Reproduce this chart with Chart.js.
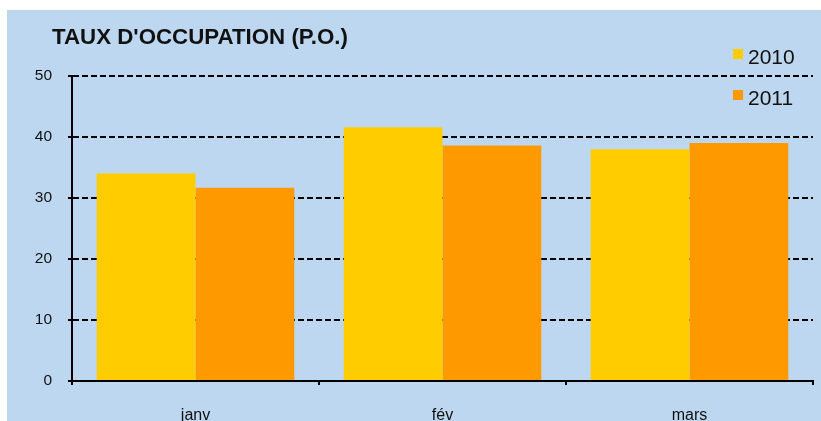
<!DOCTYPE html>
<html>
<head>
<meta charset="utf-8">
<script src="https://cdn.jsdelivr.net/npm/chart.js@4/dist/chart.umd.min.js"></script>
<style>
html,body{margin:0;padding:0;background:#fff;}
#wrap{position:absolute;left:0;top:0;width:821px;height:421px;}
</style>
</head>
<body>
<div id="wrap"><canvas id="c" width="821" height="421"></canvas></div>
<script>
const chartTitle = "TAUX D'OCCUPATION (P.O.)";
const categories = ["janv", "fév", "mars"];
const seriesNames = ["2010", "2011"];
const values2010 = [34.0, 41.6, 38.0];
const values2011 = [31.7, 38.6, 39.0];
const yTicks = [0, 10, 20, 30, 40, 50];

const BG = '#BDD7F1';
const C2010 = '#FFCC00';
const C2011 = '#FF9900';

const bgPlugin = {
  id: 'bg',
  beforeDraw(chart) {
    const ctx = chart.ctx;
    ctx.save();
    ctx.fillStyle = '#ffffff';
    ctx.fillRect(0, 0, chart.width, chart.height);
    ctx.fillStyle = BG;
    ctx.fillRect(7, 10, chart.width - 7, chart.height - 10);
    ctx.restore();
  },
  afterDraw(chart) {
    const ctx = chart.ctx;
    ctx.save();
    // title
    ctx.fillStyle = '#111';
    ctx.font = 'bold 22.3px "Liberation Sans", Arial, sans-serif';
    ctx.textBaseline = 'alphabetic';
    ctx.textAlign = 'left';
    ctx.fillText(chartTitle, 52, 44);
    // legend
    ctx.font = '21px "Liberation Sans", Arial, sans-serif';
    const ys = [49, 90];
    chart.data.datasets.forEach((ds, i) => {
      ctx.fillStyle = ds.backgroundColor;
      ctx.fillRect(733, ys[i], 10, 10);
      ctx.fillStyle = '#111';
      ctx.fillText(ds.label, 748, ys[i] + 15);
    });
    ctx.restore();
  }
};

new Chart(document.getElementById('c'), {
  type: 'bar',
  data: {
    labels: categories,
    datasets: [
      { label: seriesNames[0], data: values2010, backgroundColor: C2010 },
      { label: seriesNames[1], data: values2011, backgroundColor: C2011 }
    ]
  },
  options: {
    responsive: false,
    animation: false,
    devicePixelRatio: 1,
    layout: { padding: { top: 76, right: 8, left: 0, bottom: 0 } },
    datasets: { bar: { categoryPercentage: 0.8, barPercentage: 1.0 } },
    plugins: { legend: { display: false }, title: { display: false }, tooltip: { enabled: false } },
    scales: {
      x: {
        afterFit(s) { s.height = 40; },
        grid: { offset: true, drawOnChartArea: false, color: '#000', tickLength: 4, lineWidth: 2 },
        border: { display: true, color: '#000', width: 2 },
        ticks: { color: '#111', font: { family: '"Liberation Sans", Arial, sans-serif', size: 16 }, padding: 21 }
      },
      y: {
        min: 0, max: 50,
        afterFit(s) { s.width = 72; },
        afterBuildTicks(s) { s.ticks = yTicks.map(v => ({ value: v })); },
        grid: { color: '#000', lineWidth: 2, tickLength: 4, tickBorderDash: [], tickWidth: 2, drawTicks: true },
        border: { display: true, color: '#000', width: 2, dash: [6, 3] },
        ticks: { color: '#111', font: { family: '"Liberation Sans", Arial, sans-serif', size: 15.5 }, padding: 16 }
      }
    }
  },
  plugins: [bgPlugin]
});
</script>
</body>
</html>
